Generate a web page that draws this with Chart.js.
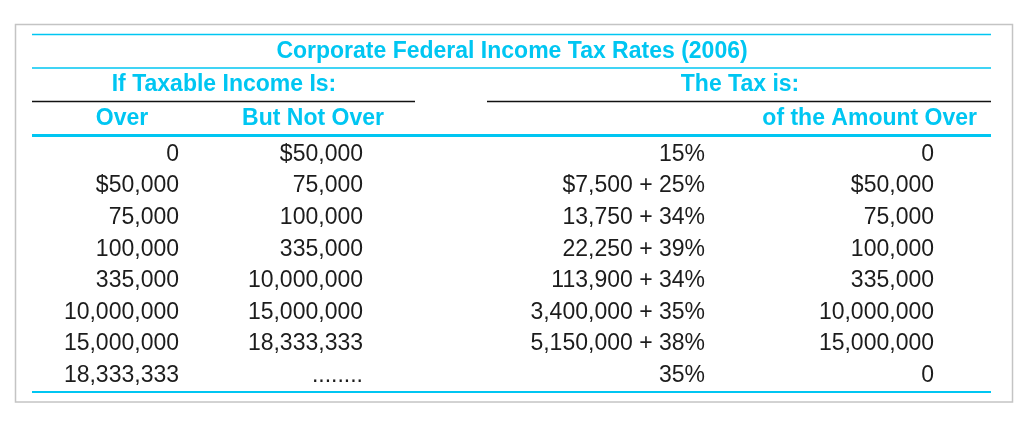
<!DOCTYPE html>
<html>
<head>
<meta charset="utf-8">
<script src="https://cdn.jsdelivr.net/npm/chart.js@4/dist/chart.umd.min.js"></script>
<style>
  html, body { margin: 0; padding: 0; background: #fff; }
  #wrap { width: 1024px; height: 430px; }
</style>
</head>
<body>
<div id="wrap"><canvas id="taxTable" width="1024" height="430"></canvas></div>
<script>
// table content
const tableTitle = 'Corporate Federal Income Tax Rates (2006)';
const groupHeaders = ['If Taxable Income Is:', 'The Tax is:'];
const columnHeaders = ['Over', 'But Not Over', '', 'of the Amount Over'];

const overValues = ['0', '$50,000', '75,000', '100,000', '335,000', '10,000,000', '15,000,000', '18,333,333'];
const butNotOverValues = ['$50,000', '75,000', '100,000', '335,000', '10,000,000', '15,000,000', '18,333,333', '........'];
const taxValues = ['15%', '$7,500 + 25%', '13,750 + 34%', '22,250 + 39%', '113,900 + 34%', '3,400,000 + 35%', '5,150,000 + 38%', '35%'];
const amountOverValues = ['0', '$50,000', '75,000', '100,000', '335,000', '10,000,000', '15,000,000', '0'];

// layout (in scale units = pixels of the 1024x430 area)
const colRightX = [179, 363, 705, 934];
const rowY0 = 153.5;
const rowStep = 31.6;
const CYAN = '#00c6f2';
const INK = '#1c1c1c';
const FONT = '"Liberation Sans", Arial, sans-serif';

const columns = [overValues, butNotOverValues, taxValues, amountOverValues];

const datasets = columns.map((vals, c) => ({
    label: columnHeaders[c] || 'Tax',
    cellLabels: vals,
    data: vals.map((_, i) => ({ x: colRightX[c], y: rowY0 + i * rowStep })),
    pointRadius: 0,
    showLine: false
}));

const tablePlugin = {
    id: 'tablePlugin',
    afterDatasetsDraw(chart) {
        const ctx = chart.ctx;
        const xs = chart.scales.x, ys = chart.scales.y;
        const px = v => xs.getPixelForValue(v);
        const py = v => ys.getPixelForValue(v);

        ctx.save();
        // outer frame
        ctx.strokeStyle = '#c4c4c4';
        ctx.lineWidth = 1.5;
        ctx.strokeRect(px(15.5), py(24.5), px(1012.5) - px(15.5), py(402) - py(24.5));

        const hline = (x1, x2, y, color, w) => {
            ctx.beginPath();
            ctx.strokeStyle = color;
            ctx.lineWidth = w;
            ctx.moveTo(px(x1), py(y));
            ctx.lineTo(px(x2), py(y));
            ctx.stroke();
        };
        hline(32, 991, 34.5, CYAN, 1.5);
        hline(32, 991, 68, CYAN, 1.5);
        hline(32, 415, 101.5, '#111', 1.5);
        hline(487, 991, 101.5, '#111', 1.5);
        hline(32, 991, 135.5, CYAN, 3);
        hline(32, 991, 392, CYAN, 2);

        // headers
        ctx.fillStyle = CYAN;
        ctx.font = 'bold 23px ' + FONT;
        ctx.textBaseline = 'middle';
        ctx.textAlign = 'center';
        ctx.fillText(tableTitle, px(512), py(51.5));
        ctx.fillText(groupHeaders[0], px(224), py(85));
        ctx.fillText(groupHeaders[1], px(740), py(85));
        ctx.fillText(columnHeaders[0], px(122), py(119));
        ctx.fillText(columnHeaders[1], px(313), py(119));
        ctx.textAlign = 'right';
        ctx.fillText(columnHeaders[3], px(977), py(119));

        // cells
        ctx.fillStyle = INK;
        ctx.font = '23px ' + FONT;
        ctx.textAlign = 'right';
        chart.data.datasets.forEach((ds, di) => {
            const meta = chart.getDatasetMeta(di);
            meta.data.forEach((pt, i) => {
                ctx.fillText(ds.cellLabels[i], pt.x, pt.y + 1);
            });
        });
        ctx.restore();
    }
};

new Chart(document.getElementById('taxTable'), {
    type: 'scatter',
    data: { datasets: datasets },
    options: {
        responsive: false,
        animation: false,
        devicePixelRatio: 1,
        layout: { padding: 0 },
        events: [],
        scales: {
            x: { type: 'linear', min: 0, max: 1024, display: false },
            y: { type: 'linear', min: 0, max: 430, reverse: true, display: false }
        },
        plugins: {
            legend: { display: false },
            tooltip: { enabled: false },
            title: { display: false }
        }
    },
    plugins: [tablePlugin]
});
</script>
</body>
</html>
